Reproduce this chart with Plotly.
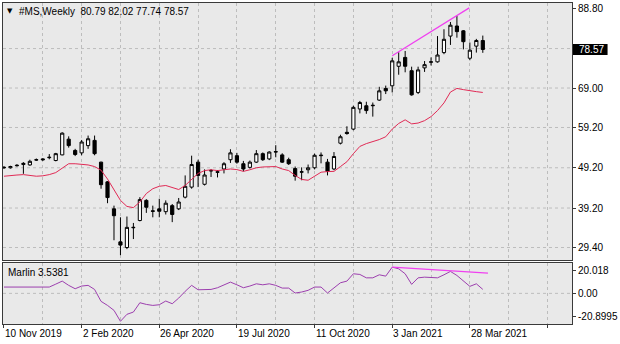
import pandas as pd
import plotly.graph_objects as go

# Weekly bars for #MS, 10 Nov 2019 .. 11 Apr 2021
weeks = pd.date_range("2019-11-10", periods=75, freq="7D")

opens = [49.2, 49.2, 49.7, 50.0, 49.9, 51.1, 51.4, 51.7, 51.0, 52.4,
         56.3, 53.5, 52.9, 54.7, 56.0, 50.6, 45.7, 39.0, 30.8, 29.4,
         34.3, 36.1, 41.1, 38.5, 39.0, 38.3, 39.8, 39.0, 41.9, 44.4,
         50.6, 45.1, 48.4, 48.2, 48.9, 51.2, 52.2, 50.2, 49.3, 50.6,
         52.7, 51.4, 53.1, 52.4, 51.2, 49.0, 48.1, 48.7, 49.2, 52.2,
         50.6, 48.9, 55.3, 58.0, 58.8, 63.8, 64.6, 64.6, 66.0, 68.9,
         69.55, 74.4, 76.6, 73.3, 67.9, 74.0, 75.4, 75.5, 77.8, 81.9,
         84.4, 83.2, 76.4, 79.4, 80.79]
highs = [49.6, 49.7, 50.1, 50.6, 51.2, 51.5, 51.6, 52.6, 52.9, 58.0,
         57.0, 53.9, 56.1, 57.2, 57.2, 50.7, 45.9, 39.8, 36.9, 37.1,
         35.5, 41.9, 41.4, 39.8, 41.5, 41.1, 40.2, 41.7, 47.3, 52.2,
         51.2, 48.8, 48.9, 48.6, 50.6, 53.8, 52.9, 50.9, 51.0, 53.6,
         53.0, 53.3, 54.8, 52.8, 51.7, 49.5, 49.3, 50.0, 52.7, 53.0,
         51.4, 53.1, 57.4, 59.5, 64.6, 65.8, 65.6, 65.4, 69.3, 69.6,
         76.5, 77.9, 78.2, 74.3, 74.3, 75.7, 76.6, 81.9, 83.6, 85.4,
         86.9, 83.4, 80.3, 81.2, 82.02]
lows = [48.9, 49.0, 49.5, 47.7, 49.7, 50.9, 50.9, 51.3, 50.8, 52.3,
        54.2, 52.1, 52.3, 53.9, 52.3, 44.0, 40.4, 31.2, 27.5, 29.0,
        31.5, 35.9, 38.0, 36.9, 36.9, 37.6, 35.7, 38.7, 41.6, 44.0,
        44.4, 44.8, 46.9, 46.8, 47.8, 50.4, 50.2, 48.3, 49.0, 50.4,
        50.9, 51.1, 51.8, 50.4, 49.9, 46.0, 46.1, 47.8, 48.8, 50.3,
        47.3, 48.6, 55.0, 57.4, 58.5, 62.7, 62.6, 61.9, 65.8, 67.5,
        67.9, 72.3, 72.9, 67.1, 67.5, 73.0, 74.6, 75.3, 77.4, 79.7,
        81.5, 78.6, 75.9, 77.8, 77.74]
closes = [49.3, 49.5, 49.8, 50.3, 50.8, 51.2, 51.2, 51.8, 52.7, 57.8,
          54.7, 52.5, 55.6, 56.4, 52.7, 45.0, 41.8, 37.3, 30.0, 34.4,
          34.4, 41.3, 39.4, 38.4, 38.4, 40.4, 37.6, 40.7, 44.6, 50.0,
          47.3, 47.4, 48.5, 48.1, 50.2, 52.9, 50.6, 48.9, 50.6, 52.7,
          51.2, 53.1, 53.2, 50.6, 50.2, 47.1, 48.2, 49.2, 52.3, 52.3,
          48.3, 52.0, 56.9, 57.7, 64.2, 65.4, 63.4, 64.7, 68.3, 68.3,
          75.75, 75.5, 74.4, 67.3, 73.5, 74.8, 75.5, 77.2, 81.1, 84.6,
          83.0, 80.5, 78.4, 80.8, 78.57]

# Moving average drawn over the price bars
ma_line = [47.1, 47.3, 47.4, 47.5, 47.3, 47.1, 47.2, 47.5, 48.0, 49.0,
           50.2, 50.2, 50.0, 49.9, 49.5, 48.6, 46.4, 43.6, 41.1, 39.6,
           39.3, 40.7, 42.8, 44.0, 44.6, 44.8, 44.2, 43.8, 44.8, 46.4,
           47.8, 48.5, 48.7, 48.5, 48.7, 48.9, 48.75, 48.3, 48.7, 49.2,
           49.4, 49.4, 49.5, 48.9, 48.5, 47.3, 46.3, 46.1, 47.0, 48.1,
           48.25, 48.3, 49.5, 50.7, 52.7, 54.5, 55.2, 55.7, 56.2, 56.9,
           58.8, 60.2, 61.1, 60.1, 60.3, 60.9, 61.9, 63.4, 65.3, 68.0,
           68.9, 68.6, 68.3, 68.1, 67.9]

# Marlin oscillator (lower window)
marlin = [5.6, 5.6, 5.6, 5.6, 5.6, 5.6, 5.6, 5.6, 8.2, 10.9,
          7.1, 4.1, 6.5, 7.1, 3.5, -7.1, -10.7, -15.1, -24.8, -18.6,
          -16.6, -8.3, -9.8, -10.7, -10.1, -6.8, -9.2, -4.2, 1.8, 7.1,
          3.2, 3.5, 3.5, 5.0, 7.6, 10.0, 7.6, 5.0, 6.5, 8.5,
          7.6, 8.5, 7.1, 4.7, 4.7, 0.3, 1.2, 2.7, 5.6, 5.6,
          0.3, 4.7, 9.4, 10.9, 17.4, 16.8, 13.8, 13.8, 16.5, 15.3,
          23.3, 21.8, 17.4, 8.0, 13.8, 14.4, 14.4, 13.8, 16.5, 19.5,
          15.9, 10.9, 6.2, 8.5, 3.5381]

# Hand-drawn trend lines
price_trend_x = ["2021-01-03", "2021-03-27 08:00"]
price_trend_y = [77.0, 88.9]
marlin_trend_x = ["2021-01-03", "2021-04-16 14:00"]
marlin_trend_y = [23.3, 17.9]

price_ticks = [29.4, 39.2, 49.2, 59.2, 69.0, 78.8, 88.8]
price_tick_text = ["29.40", "39.20", "49.20", "59.20", "69.00", "", "88.80"]
price_grid = [29.4, 39.2, 49.2, 59.2, 69.0, 78.8]
marlin_ticks = [-20.8995, 0.0, 20.018]
marlin_tick_text = ["-20.8995", "0.00", "20.018"]
marlin_grid = [0.0]

FONT = "Liberation Sans"
BG = "#e9e9e9"
GRID = "#bdbdbd"
FRAME = "#3a3a3a"
WEEK_MS = 7 * 86400000

x_start = weeks[0] - pd.Timedelta(days=1.07)
x_end = weeks[0] + pd.Timedelta(days=614.5)

fig = go.Figure()

fig.add_trace(go.Candlestick(
    x=weeks, open=opens, high=highs, low=lows, close=closes,
    increasing=dict(line=dict(color="black", width=1), fillcolor="white"),
    decreasing=dict(line=dict(color="black", width=1), fillcolor="black"),
    whiskerwidth=0, xaxis="x", yaxis="y", showlegend=False, hoverinfo="skip",
))
fig.add_trace(go.Scatter(
    x=weeks, y=ma_line, mode="lines", line=dict(color="#e02a55", width=1),
    xaxis="x", yaxis="y", showlegend=False, hoverinfo="skip",
))
fig.add_trace(go.Scatter(
    x=price_trend_x, y=price_trend_y, mode="lines",
    line=dict(color="#f040f0", width=1.2),
    xaxis="x", yaxis="y", showlegend=False, hoverinfo="skip",
))
fig.add_trace(go.Scatter(
    x=weeks, y=marlin, mode="lines", line=dict(color="#9c3fae", width=1),
    xaxis="x2", yaxis="y2", showlegend=False, hoverinfo="skip",
))
fig.add_trace(go.Scatter(
    x=marlin_trend_x, y=marlin_trend_y, mode="lines",
    line=dict(color="#f040f0", width=1.2),
    xaxis="x2", yaxis="y2", showlegend=False, hoverinfo="skip",
))

axis_font = dict(family=FONT, size=10, color="black")

fig.update_layout(
    width=620, height=344,
    margin=dict(l=2, r=42, t=2, b=20),
    paper_bgcolor="white", plot_bgcolor=BG,
    showlegend=False,
    xaxis=dict(
        domain=[0, 1], anchor="y", range=[x_start, x_end],
        type="date", tick0="2019-11-10", dtick=6 * WEEK_MS,
        showticklabels=False, ticks="",
        showgrid=True, gridcolor=GRID, griddash="dot", gridwidth=1,
        showline=True, mirror=True, linecolor=FRAME, linewidth=1,
        zeroline=False, rangeslider=dict(visible=False),
    ),
    xaxis2=dict(
        domain=[0, 1], anchor="y2", matches="x", type="date",
        tick0="2019-11-10", dtick=12 * WEEK_MS,
        showticklabels=False, ticks="outside", ticklen=3, tickcolor=FRAME,
        showgrid=True, gridcolor=GRID, griddash="dot", gridwidth=1,
        minor=dict(tick0="2019-11-10", dtick=6 * WEEK_MS, showgrid=True,
                   gridcolor=GRID, griddash="dot", gridwidth=1, ticks=""),
        showline=True, mirror=True, linecolor=FRAME, linewidth=1,
        zeroline=False,
    ),
    yaxis=dict(
        domain=[(324 - 260) / 322, 1], anchor="x", side="right",
        range=[26.25, 90.11],
        tickmode="array", tickvals=price_ticks, ticktext=price_tick_text,
        ticks="outside", ticklen=3, tickcolor=FRAME, tickfont=axis_font,
        showgrid=False,
        showline=True, mirror=True, linecolor=FRAME, linewidth=1,
        zeroline=False,
    ),
    yaxis2=dict(
        domain=[0, (324 - 263) / 322], anchor="x2", side="right",
        range=[-27.2, 26.8],
        tickmode="array", tickvals=marlin_ticks, ticktext=marlin_tick_text,
        ticks="outside", ticklen=3, tickcolor=FRAME, tickfont=axis_font,
        showgrid=False,
        showline=True, mirror=True, linecolor=FRAME, linewidth=1,
        zeroline=False,
    ),
)

annotations = []

# symbol header with the last bar's OHLC
annotations.append(dict(
    xref="paper", yref="paper", x=(4 - 2) / 576, y=(324 - 10.5) / 322,
    xanchor="left", yanchor="middle", showarrow=False,
    text="\u25BC", font=dict(family="DejaVu Sans", size=7, color="black"),
))
annotations.append(dict(
    xref="paper", yref="paper", x=(16 - 2) / 576, y=(324 - 10.5) / 322,
    xanchor="left", yanchor="middle", showarrow=False,
    text=f"#MS,Weekly\u00a0\u00a0{opens[-1]:.2f} {highs[-1]:.2f} {lows[-1]:.2f} {closes[-1]:.2f}",
    font=dict(family=FONT, size=10, color="black"),
))

# indicator caption
annotations.append(dict(
    xref="paper", yref="paper", x=(5 - 2) / 576, y=(324 - 272) / 322,
    xanchor="left", yanchor="middle", showarrow=False,
    text=f"Marlin {marlin[-1]}",
    font=dict(family=FONT, size=10, color="black"),
))

# date labels every 12 weeks, starting at their tick
for d in weeks[::12]:
    annotations.append(dict(
        xref="x2", yref="paper", x=d, y=(324 - 326) / 322,
        xanchor="left", yanchor="top", showarrow=False, xshift=-1,
        text=f"{d.day} {d.strftime('%b %Y')}",
        font=dict(family=FONT, size=10, color="black"),
    ))

# current price tag on the right scale
annotations.append(dict(
    xref="paper", yref="y", x=(583 - 2) / 576, y=closes[-1],
    xanchor="left", yanchor="middle", showarrow=False,
    text=f"{closes[-1]:.2f}",
    font=dict(family=FONT, size=10, color="white"),
))

shapes = []
# dotted horizontal grid in both windows
for level in price_grid:
    shapes.append(dict(
        type="line", xref="paper", yref="y", x0=0, x1=1, y0=level, y1=level,
        layer="below", line=dict(color=GRID, width=1, dash="dot"),
    ))
for level in marlin_grid:
    shapes.append(dict(
        type="line", xref="paper", yref="y2", x0=0, x1=1, y0=level, y1=level,
        layer="below", line=dict(color=GRID, width=1, dash="dot"),
    ))
# background of the price tag
shapes.append(dict(
    type="rect", xref="paper", yref="y", layer="above",
    x0=(579 - 2) / 576, x1=(614 - 2) / 576,
    y0=closes[-1] - 5.5 / 4.04, y1=closes[-1] + 5.5 / 4.04,
    fillcolor="black", line=dict(width=0),
))

fig.update_layout(annotations=annotations, shapes=shapes)

fig.write_html("out.html")
